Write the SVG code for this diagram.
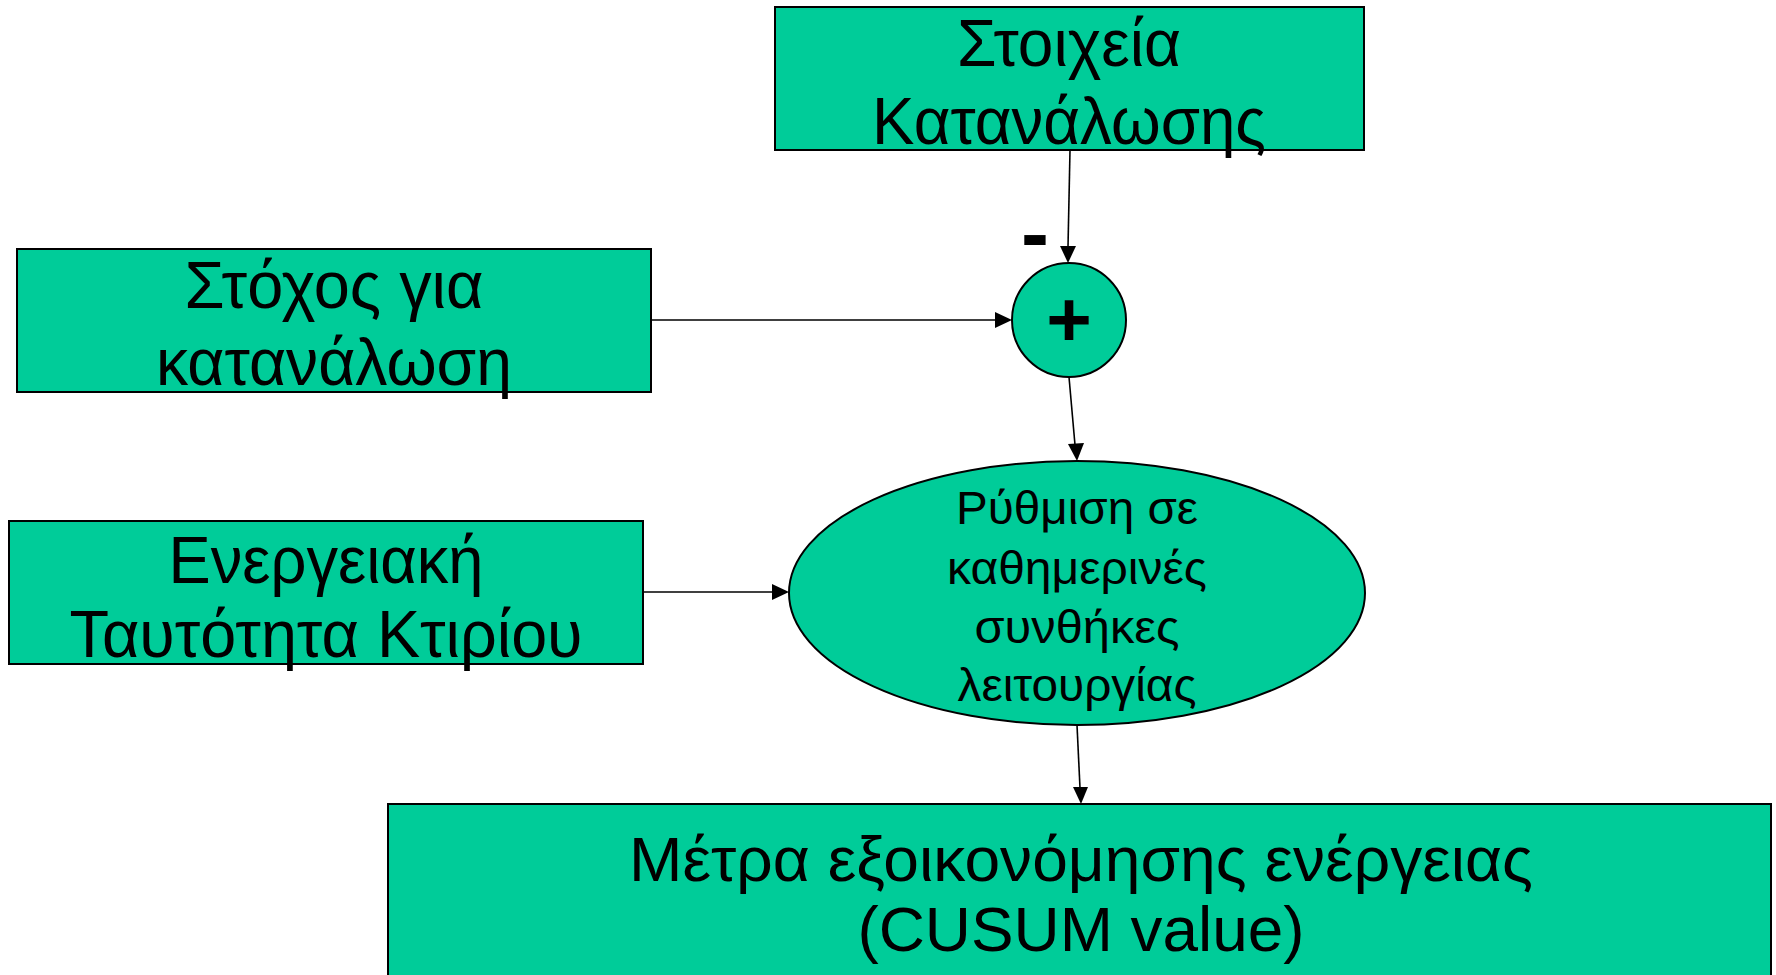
<svg xmlns="http://www.w3.org/2000/svg" width="1776" height="975" viewBox="0 0 1776 975">
<style>
.box{fill:#00CC99;stroke:#000;stroke-width:2}
.t{font-family:"Liberation Sans",Arial,sans-serif;fill:#000;text-anchor:middle}
.big{font-size:66px}
.mid{font-size:47px}
.bot{font-size:63px}
.ln{stroke:#000;stroke-width:1.6;fill:none}
</style>
<rect width="1776" height="975" fill="#fff"/>
<g id="connectors">
<line class="ln" x1="1070" y1="150" x2="1068" y2="247"/>
<path d="M1060,246 L1068,263 L1076,246 z" fill="#000"/>
<line class="ln" x1="651" y1="320" x2="996" y2="320"/>
<path d="M995,312 L1012,320 L995,328 z" fill="#000"/>
<line class="ln" x1="1069" y1="377" x2="1075" y2="445"/>
<path d="M1068,444 L1077,461 L1084,443 z" fill="#000"/>
<line class="ln" x1="643" y1="592" x2="773" y2="592"/>
<path d="M772,584 L789,592 L772,600 z" fill="#000"/>
<line class="ln" x1="1077" y1="725" x2="1080" y2="788"/>
<path d="M1073,787 L1081,804 L1088,787 z" fill="#000"/>
</g>
<g id="n-stoixeia">
<rect class="box" x="775" y="7" width="589" height="143"/>
<text class="t big" x="1069" y="66" textLength="224" lengthAdjust="spacingAndGlyphs">Στοιχεία</text>
<text class="t big" x="1069" y="144" textLength="394" lengthAdjust="spacingAndGlyphs">Κατανάλωσης</text>
</g>
<g id="n-stoxos">
<rect class="box" x="17" y="249" width="634" height="143"/>
<text class="t big" x="334" y="308" textLength="299" lengthAdjust="spacingAndGlyphs">Στόχος για</text>
<text class="t big" x="334" y="385" textLength="356" lengthAdjust="spacingAndGlyphs">κατανάλωση</text>
</g>
<g id="n-energeiaki">
<rect class="box" x="9" y="521" width="634" height="143"/>
<text class="t big" x="326" y="583" textLength="315" lengthAdjust="spacingAndGlyphs">Ενεργειακή</text>
<text class="t big" x="326" y="657" textLength="513" lengthAdjust="spacingAndGlyphs">Ταυτότητα Κτιρίου</text>
</g>
<g id="n-sum">
<circle class="box" cx="1069" cy="320" r="57"/>
<text class="t" x="1069" y="346" font-size="78" font-weight="bold">+</text>
</g>
<g id="minus-label">
<text class="t" x="1035" y="262" font-size="84" font-weight="bold">-</text>
</g>
<g id="n-rythmisi">
<ellipse class="box" cx="1077" cy="593" rx="288" ry="132"/>
<text class="t mid" x="1077" y="524" textLength="242" lengthAdjust="spacingAndGlyphs">Ρύθμιση σε</text>
<text class="t mid" x="1077" y="584" textLength="260" lengthAdjust="spacingAndGlyphs">καθημερινές</text>
<text class="t mid" x="1077" y="643" textLength="205" lengthAdjust="spacingAndGlyphs">συνθήκες</text>
<text class="t mid" x="1077" y="701" textLength="239" lengthAdjust="spacingAndGlyphs">λειτουργίας</text>
</g>
<g id="n-metra">
<rect class="box" x="388" y="804" width="1383" height="190"/>
<text class="t bot" x="1081" y="881" textLength="904" lengthAdjust="spacingAndGlyphs">Μέτρα εξοικονόμησης ενέργειας</text>
<text class="t bot" x="1081" y="951" textLength="447" lengthAdjust="spacingAndGlyphs">(CUSUM value)</text>
</g>
</svg>
